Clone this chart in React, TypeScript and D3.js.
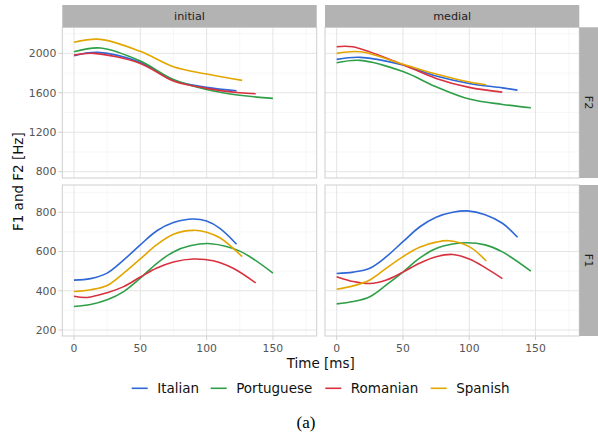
import React from "react";
import * as d3 from "d3";

const languages = ["Italian", "Portuguese", "Romanian", "Spanish"];
const colors = ["#2f67d8", "#2e9f48", "#d9303e", "#e3a600"];
const positions = ["initial", "medial"];
const formants = ["F2", "F1"];

// [time ms, Hz]
const italianInitialF2 = [[0, 1976], [18, 2010], [50, 1909], [75, 1728], [100, 1655], [122.6, 1620]];
const portugueseInitialF2 = [[0, 2016], [20, 2054], [50, 1922], [75, 1735], [100, 1634], [125, 1575], [150, 1543]];
const romanianInitialF2 = [[0, 1983], [15, 2000], [50, 1898], [75, 1720], [100, 1645], [125, 1600], [137, 1590]];
const spanishInitialF2 = [[0, 2112], [20, 2142], [50, 2020], [75, 1864], [100, 1790], [126.8, 1726]];

const italianMedialF2 = [[0, 1939], [18, 1959], [50, 1881], [75, 1770], [100, 1695], [125, 1650], [136.4, 1627]];
const portugueseMedialF2 = [[0, 1905], [18, 1929], [50, 1815], [75, 1661], [100, 1536], [125, 1482], [146.5, 1448]];
const romanianMedialF2 = [[0, 2067], [12, 2066], [50, 1885], [75, 1746], [100, 1655], [124.9, 1607]];
const spanishMedialF2 = [[0, 2000], [18, 2016], [50, 1890], [75, 1790], [100, 1709], [112.8, 1681]];

const italianInitialF1 = [[0, 454], [12.5, 462], [25, 490], [37.5, 557], [50, 634], [62.5, 706], [75, 748], [90, 766], [100, 755], [110, 718], [122.6, 637]];
const portugueseInitialF1 = [[0, 320], [12.5, 330], [25, 354], [37.5, 396], [50, 464], [62.5, 540], [75, 598], [87.5, 629], [103, 640], [125, 602], [150, 490]];
const romanianInitialF1 = [[0, 372], [10, 366], [25, 390], [37.5, 421], [50, 470], [62.5, 516], [75, 547], [90, 562], [105, 553], [120, 515], [137, 440]];
const spanishInitialF1 = [[0, 396], [12.5, 405], [25, 427], [37.5, 490], [50, 562], [62.5, 635], [75, 688], [90, 708], [100, 698], [110, 670], [126.8, 574]];

const italianMedialF1 = [[0, 488], [12.5, 495], [25, 515], [37.5, 574], [50, 650], [62.5, 725], [75, 775], [87.5, 800], [98.5, 807], [112, 788], [125, 744], [136.4, 673]];
const portugueseMedialF1 = [[0, 333], [12.5, 345], [25, 370], [37.5, 430], [50, 495], [62.5, 566], [75, 615], [87.5, 638], [98, 645], [112, 634], [125, 598], [146.5, 500]];
const romanianMedialF1 = [[0, 472], [12.5, 447], [25, 437], [37.5, 455], [50, 495], [62.5, 540], [75, 573], [87.5, 585], [100, 562], [112, 518], [125, 462]];
const spanishMedialF1 = [[0, 408], [12.5, 425], [25, 455], [37.5, 515], [50, 574], [62.5, 622], [75, 648], [85, 655], [100, 625], [112.8, 552]];

const panelData: Record<string, number[][][]> = {
  "initial-F2": [italianInitialF2, portugueseInitialF2, romanianInitialF2, spanishInitialF2],
  "medial-F2": [italianMedialF2, portugueseMedialF2, romanianMedialF2, spanishMedialF2],
  "initial-F1": [italianInitialF1, portugueseInitialF1, romanianInitialF1, spanishInitialF1],
  "medial-F1": [italianMedialF1, portugueseMedialF1, romanianMedialF1, spanishMedialF1],
};

const xTicks = [0, 50, 100, 150];
const xMinor = [25, 75, 125, 175];
const yTicksF2 = [800, 1200, 1600, 2000];
const yMinorF2 = [1000, 1400, 1800, 2200];
const yTicksF1 = [200, 400, 600, 800];
const yMinorF1 = [300, 500, 700, 900];

const W = 598, H = 434;
const colX = [[62.3, 316.7], [325, 579.3]];
const rowY = [[27.3, 178], [185, 336]];
const stripTop = 5;
const stripRight = 598;

const font = "'DejaVu Sans', sans-serif";

export default function App() {
  const xDomain: [number, number] = [-8.8, 183];
  const yDomains: [number, number][] = [[736, 2264], [169.5, 939]];
  const yTicks = [yTicksF2, yTicksF1];
  const yMinors = [yMinorF2, yMinorF1];

  const panels: React.ReactNode[] = [];
  rowY.forEach((ry, ri) => {
    colX.forEach((cx, ci) => {
      const x = d3.scaleLinear().domain(xDomain).range(cx);
      const y = d3.scaleLinear().domain(yDomains[ri]).range([ry[1], ry[0]]);
      const key = `${positions[ci]}-${formants[ri]}`;
      const line = d3
        .line<number[]>()
        .x((d) => x(d[0]))
        .y((d) => y(d[1]))
        .curve(d3.curveCatmullRom.alpha(0.5));
      panels.push(
        <g key={key}>
          <rect x={cx[0]} y={ry[0]} width={cx[1] - cx[0]} height={ry[1] - ry[0]} fill="#fff" />
          {xMinor.map((t) => (
            <line key={"xm" + t} x1={x(t)} x2={x(t)} y1={ry[0]} y2={ry[1]} stroke="#f2f2f2" strokeWidth={0.6} />
          ))}
          {yMinors[ri].map((t) => (
            <line key={"ym" + t} x1={cx[0]} x2={cx[1]} y1={y(t)} y2={y(t)} stroke="#f2f2f2" strokeWidth={0.6} />
          ))}
          {xTicks.map((t) => (
            <line key={"xM" + t} x1={x(t)} x2={x(t)} y1={ry[0]} y2={ry[1]} stroke="#e4e4e4" strokeWidth={1} />
          ))}
          {yTicks[ri].map((t) => (
            <line key={"yM" + t} x1={cx[0]} x2={cx[1]} y1={y(t)} y2={y(t)} stroke="#e4e4e4" strokeWidth={1} />
          ))}
          {panelData[key].map((series, si) => (
            <path key={"s" + si} d={line(series) || ""} fill="none" stroke={colors[si]} strokeWidth={1.6} />
          ))}
          <rect x={cx[0]} y={ry[0]} width={cx[1] - cx[0]} height={ry[1] - ry[0]} fill="none" stroke="#cfcfcf" strokeWidth={1} />
          {ci === 0 &&
            yTicks[ri].map((t) => (
              <g key={"yl" + t}>
                <line x1={cx[0] - 4} x2={cx[0]} y1={y(t)} y2={y(t)} stroke="#cfcfcf" strokeWidth={1} />
                <text x={cx[0] - 6} y={y(t)} dy="0.35em" textAnchor="end" fontSize={10.8} fill="#555" fontFamily={font}>
                  {t}
                </text>
              </g>
            ))}
          {ri === 1 &&
            xTicks.map((t) => (
              <g key={"xl" + t}>
                <line x1={x(t)} x2={x(t)} y1={ry[1]} y2={ry[1] + 4} stroke="#cfcfcf" strokeWidth={1} />
                <text x={x(t)} y={ry[1] + 15.5} textAnchor="middle" fontSize={10.8} fill="#555" fontFamily={font}>
                  {t}
                </text>
              </g>
            ))}
          {ri === 0 && (
            <g>
              <rect x={cx[0]} y={stripTop} width={cx[1] - cx[0]} height={ry[0] - stripTop} fill="#b3b3b3" />
              <text x={(cx[0] + cx[1]) / 2} y={(stripTop + ry[0]) / 2} dy="0.35em" textAnchor="middle" fontSize={11.2} fill="#222" fontFamily={font}>
                {positions[ci]}
              </text>
            </g>
          )}
          {ci === 1 && (
            <g>
              <rect x={cx[1]} y={ry[0]} width={stripRight - cx[1]} height={ry[1] - ry[0]} fill="#b3b3b3" />
              <text
                transform={`translate(${(cx[1] + stripRight) / 2},${(ry[0] + ry[1]) / 2}) rotate(90)`}
                dy="0.35em"
                textAnchor="middle"
                fontSize={11.2}
                fill="#222"
                fontFamily={font}
              >
                {formants[ri]}
              </text>
            </g>
          )}
        </g>
      );
    });
  });

  const legendX = [131.7, 210.7, 325.3, 430.7];
  const legendY = 388.3;

  return (
    <svg width={W} height={H} style={{ position: "absolute", left: 0, top: 0 }} xmlns="http://www.w3.org/2000/svg">
      <rect width={W} height={H} fill="#fff" />
      {panels}
      <text
        transform={`translate(18,${(rowY[0][0] + rowY[1][1]) / 2}) rotate(-90)`}
        dy="0.35em"
        textAnchor="middle"
        fontSize={13.5}
        fill="#111"
        fontFamily={font}
      >
        F1 and F2 [Hz]
      </text>
      <text x={(colX[0][0] + colX[1][1]) / 2} y={367.5} textAnchor="middle" fontSize={13.5} fill="#111" fontFamily={font}>
        Time [ms]
      </text>
      {languages.map((lang, i) => (
        <g key={lang}>
          <line x1={legendX[i]} x2={legendX[i] + 16} y1={legendY} y2={legendY} stroke={colors[i]} strokeWidth={1.6} />
          <text x={legendX[i] + 25.5} y={legendY} dy="0.35em" fontSize={13.5} fill="#111" fontFamily={font}>
            {lang}
          </text>
        </g>
      ))}
      <text x={306} y={428} textAnchor="middle" fontSize={17} fill="#000" fontFamily="'Liberation Serif', 'Times New Roman', serif">
        (a)
      </text>
    </svg>
  );
}
